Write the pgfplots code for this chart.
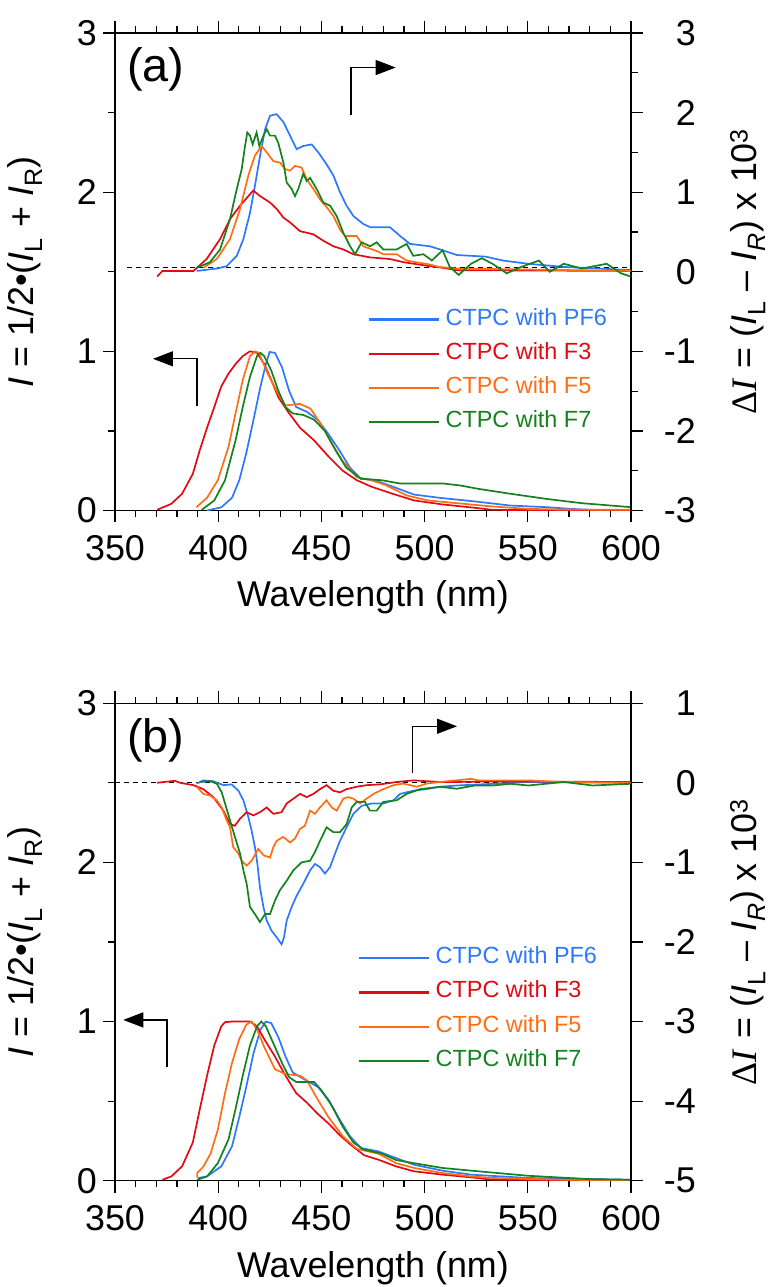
\documentclass[border=0pt]{standalone}
\usepackage{pgfplots}
\pgfplotsset{compat=1.18}
\usepackage{fontspec}
\setmainfont{Liberation Sans}
\newfontfamily\seriffont{Liberation Serif}
\usetikzlibrary{arrows.meta}

\definecolor{cblue}{RGB}{45,120,255}
\definecolor{cred}{RGB}{228,10,20}
\definecolor{corange}{RGB}{255,110,20}
\definecolor{cgreen}{RGB}{20,130,30}

\newcommand{\tickfont}{\fontsize{36}{36}\selectfont}
\newcommand{\labfont}{\fontsize{36}{36}\selectfont}
\newcommand{\legfont}{\fontsize{23.5}{23.5}\selectfont}

\tikzset{arr/.style={black, line width=1.3bp, -{Triangle[length=20bp,width=15bp]}}}

\pgfplotsset{
  base/.style={
    scale only axis, width=516bp, height=477.5bp,
    xmin=350, xmax=600,
    major tick length=12bp, minor tick length=6.5bp,
    every tick/.style={black, line width=1.2bp},
    axis line style={line width=1.3bp},
    tick label style={font=\tickfont, inner sep=0pt},
    every axis plot/.append style={line width=1.7bp},
  },
  leftax/.style={base,
    ymin=0, ymax=3, ytick={0,1,2,3}, yticklabels={0,1,2,3},
    minor y tick num=1, ytick pos=left,
    xtick={350,400,450,500,550,600}, xticklabels={350,400,450,500,550,600},
    minor x tick num=4, xtick pos=both, xticklabel pos=bottom,
    yticklabel style={anchor=east, xshift=-6bp},
    xticklabel style={anchor=north, yshift=-12.5bp},
    xlabel={Wavelength (nm)},
    every axis x label/.style={at={(axis description cs:0.5,0)}, anchor=base, yshift=-96.5bp, font=\labfont},
    ylabel={\textit{I} = 1/2•(\textit{I}\textsubscript{L} + \textit{I}\textsubscript{R})},
    every axis y label/.style={at={(axis description cs:-0.158,0.5)}, rotate=90, anchor=base, font=\labfont},
    legend cell align=left,
    legend style={draw=none, fill=none, anchor=north west, inner sep=0pt, outer sep=0pt,
      font=\legfont, row sep=17.2bp,
      nodes={inner sep=0pt, text height=17bp, text depth=0pt},
      /tikz/every odd column/.append style={column sep=6bp}},
    legend image code/.code={\draw[#1, line width=2.2bp] (0bp,-3bp) -- (69.6bp,-3bp);},
    tick align=outside,
  },
  rightax/.style={base,
    axis y line*=right, axis x line=none, ytick pos=right,
    yticklabel style={anchor=east, xshift=53bp},
    ylabel={{\seriffont Δ\textit{I}} = (\textit{I}\textsubscript{L} – \textit{I}\textsubscript{\textit{R}}) x 10\textsuperscript{3}},
    every axis y label/.style={at={(axis description cs:1.2436,0.5)}, rotate=90, anchor=base, font=\labfont},
    tick align=outside,
  },
}

\begin{document}
\begin{tikzpicture}[x=1bp,y=1bp]
\useasboundingbox (0bp,0bp) rectangle (779bp,1287bp);

%%%%%%%%%%%%%%%% panel (a), PL (left axis)
\begin{axis}[leftax, at={(115bp,776.5bp)}, anchor=south west,
  legend style={at={(axis description cs:0.490,0.424)}}]
\addplot[cblue] coordinates {(394.6,0.0)(401.5,0.02)(406.7,0.08)(410.2,0.19)(413.6,0.36)(417.1,0.57)(420.5,0.78)(423.1,0.92)(424.9,0.996)(427.5,0.99)(430.9,0.90)(434.4,0.75)(437.8,0.65)(443.0,0.62)(448.2,0.57)(453.4,0.48)(458.6,0.38)(463.8,0.27)(469.0,0.20)(475.9,0.19)(484.5,0.15)(494.9,0.10)(507.0,0.08)(524.3,0.057)(541.6,0.031)(558.9,0.021)(571.0,0.01)(588.2,0.0)(599.8,0.004)};
\addlegendentry{\textcolor{cblue}{CTPC with PF6}}
\addplot[cred] coordinates {(370.4,0.004)(377.3,0.042)(382.5,0.105)(387.7,0.23)(391.1,0.38)(394.6,0.52)(398.1,0.65)(401.5,0.78)(405.0,0.86)(408.4,0.92)(411.9,0.97)(415.4,1.0)(418.8,0.99)(422.3,0.92)(425.7,0.82)(429.2,0.71)(434.4,0.61)(439.6,0.52)(446.5,0.44)(453.4,0.34)(460.3,0.25)(467.2,0.19)(474.1,0.15)(484.5,0.105)(494.9,0.063)(508.7,0.038)(524.3,0.017)(532.9,0.004)(599.8,0.0)};
\addlegendentry{\textcolor{cred}{CTPC with F3}}
\addplot[corange] coordinates {(389.4,0.02)(394.6,0.08)(399.8,0.19)(405.0,0.40)(408.4,0.61)(411.9,0.82)(415.4,0.97)(417.9,1.0)(419.7,0.99)(424.0,0.86)(429.2,0.73)(432.6,0.66)(439.6,0.67)(444.7,0.64)(449.9,0.54)(455.1,0.42)(460.3,0.31)(467.2,0.21)(474.1,0.19)(481.1,0.16)(491.4,0.094)(501.8,0.063)(515.6,0.046)(532.9,0.025)(550.2,0.01)(567.5,0.006)(599.8,0.004)};
\addlegendentry{\textcolor{corange}{CTPC with F5}}
\addplot[cgreen] coordinates {(392.0,0.004)(398.1,0.063)(403.3,0.19)(408.4,0.44)(411.9,0.65)(415.4,0.84)(418.8,0.97)(420.5,0.99)(422.3,0.97)(425.7,0.88)(429.2,0.75)(432.6,0.65)(436.1,0.61)(441.3,0.60)(446.5,0.57)(451.7,0.50)(456.8,0.38)(462.0,0.27)(469.0,0.20)(479.3,0.19)(487.9,0.17)(508.7,0.17)(517.4,0.157)(526.0,0.136)(541.6,0.105)(558.9,0.073)(576.1,0.046)(599.8,0.021)};
\addlegendentry{\textcolor{cgreen}{CTPC with F7}}
\draw[arr] (axis cs:389.8,0.657) -- (axis cs:389.8,0.953) -- (axis cs:368.4,0.953);
\end{axis}

%%%%%%%%%%%%%%%% panel (a), CD (right axis)
\begin{axis}[rightax, at={(115bp,776.5bp)}, anchor=south west,
  ymin=-3, ymax=3, ytick={-3,-2,-1,0,1,2,3}, yticklabels={-3,-2,-1,0,1,2,3},
  minor y tick num=1]
\addplot[black, line width=1.3bp, dash pattern=on 5bp off 4bp] coordinates {(355.7,0.05)(600,0.05)};
\addplot[cblue] coordinates {(389.6,0.01)(399.3,0.04)(404.1,0.07)(409.0,0.20)(412.2,0.41)(415.4,0.74)(417.8,1.08)(420.3,1.46)(422.7,1.79)(425.1,1.96)(428.3,1.98)(431.6,1.88)(434.8,1.71)(438.0,1.54)(441.2,1.58)(445.3,1.60)(448.5,1.50)(452.5,1.35)(455.8,1.21)(459.0,1.00)(462.2,0.83)(465.5,0.70)(470.3,0.60)(473.6,0.56)(483.2,0.56)(488.1,0.45)(492.9,0.35)(502.6,0.32)(508.7,0.27)(515.6,0.21)(529.5,0.19)(538.1,0.14)(550.2,0.10)(567.5,0.06)(584.8,0.04)(599.8,0.02)};
\addplot[cred] coordinates {(370.4,-0.06)(373.0,0.01)(388.0,0.01)(394.4,0.16)(400.9,0.41)(405.7,0.66)(410.6,0.83)(414.6,0.95)(417.0,1.02)(420.3,0.95)(425.1,0.87)(428.3,0.79)(431.6,0.68)(434.8,0.62)(439.6,0.51)(446.1,0.47)(450.9,0.39)(455.8,0.32)(460.6,0.28)(465.5,0.22)(473.6,0.18)(483.2,0.16)(489.7,0.12)(502.6,0.07)(508.7,0.05)(515.6,0.02)(599.8,0.01)};
\addplot[corange] coordinates {(392.8,0.05)(399.3,0.16)(405.7,0.41)(410.6,0.79)(414.6,1.21)(417.8,1.46)(421.1,1.58)(423.5,1.50)(426.7,1.39)(430.0,1.37)(432.4,1.29)(434.8,1.27)(437.2,1.33)(440.4,1.31)(442.9,1.16)(446.1,1.04)(449.3,0.91)(452.6,0.81)(455.8,0.70)(459.0,0.53)(461.4,0.45)(467.1,0.45)(470.3,0.32)(476.8,0.26)(480.0,0.22)(486.5,0.22)(491.3,0.14)(502.6,0.09)(507.0,0.06)(515.6,0.04)(599.8,0.01)};
\addplot[cgreen] coordinates {(389.6,0.05)(396.0,0.12)(400.9,0.28)(405.7,0.66)(409.0,1.04)(411.4,1.29)(413.0,1.58)(414.1,1.75)(415.4,1.71)(416.7,1.60)(418.6,1.75)(419.9,1.58)(421.9,1.71)(423.5,1.79)(425.1,1.71)(427.5,1.71)(429.1,1.62)(431.6,1.37)(433.2,1.12)(435.6,1.04)(437.2,0.95)(438.8,1.04)(441.2,1.23)(442.9,1.14)(444.5,1.18)(447.7,1.04)(450.9,0.87)(454.2,0.83)(457.4,0.70)(460.6,0.49)(463.9,0.32)(466.3,0.22)(469.5,0.37)(473.6,0.32)(476.8,0.37)(480.0,0.28)(486.5,0.28)(491.3,0.35)(494.5,0.20)(499.4,0.22)(502.6,0.16)(503.5,0.14)(508.7,0.27)(512.2,0.06)(516.5,-0.04)(522.5,0.10)(527.7,0.17)(532.9,0.10)(539.8,-0.02)(546.7,0.06)(555.4,0.14)(560.6,0.00)(567.5,0.10)(576.1,0.04)(588.2,0.10)(595.2,-0.02)(599.8,-0.06)};
\draw[arr] (axis cs:464.3,1.975) -- (axis cs:464.3,2.566) -- (axis cs:486,2.566);
\end{axis}

%%%%%%%%%%%%%%%% panel (b), PL (left axis)
\begin{axis}[leftax, at={(115bp,106.3bp)}, anchor=south west,
  legend style={at={(axis description cs:0.4707,0.490)}}]
\addplot[cblue] coordinates {(390.3,0.017)(394.6,0.027)(401.5,0.09)(406.7,0.216)(410.2,0.40)(413.6,0.59)(417.1,0.80)(420.5,0.95)(423.1,1.0)(425.7,0.99)(429.2,0.90)(432.6,0.78)(436.1,0.68)(441.3,0.64)(448.2,0.59)(453.4,0.51)(458.6,0.39)(463.8,0.28)(469.0,0.206)(477.6,0.184)(486.2,0.142)(494.9,0.10)(508.7,0.063)(522.5,0.038)(550.2,0.017)(599.8,0.006)};
\addlegendentry{\textcolor{cblue}{CTPC with PF6}}
\addplot[cred] coordinates {(373.0,0.006)(377.3,0.027)(382.5,0.090)(387.7,0.24)(391.1,0.45)(394.6,0.66)(398.1,0.85)(401.5,0.97)(403.3,0.996)(406.7,1.0)(415.4,1.0)(418.8,0.97)(422.3,0.89)(427.5,0.78)(432.6,0.66)(437.8,0.55)(443.0,0.49)(448.2,0.42)(453.4,0.36)(458.6,0.29)(463.8,0.23)(470.7,0.16)(477.6,0.132)(486.2,0.09)(494.9,0.059)(508.7,0.038)(522.5,0.021)(532.9,0.006)(599.8,0.002)};
\addlegendentry{\textcolor{cred}{CTPC with F3}}
\addplot[corange] coordinates {(389.8,0.02)(389.8,0.048)(392.9,0.09)(396.3,0.17)(399.8,0.32)(403.3,0.55)(406.7,0.74)(410.2,0.89)(413.6,0.98)(416.2,1.0)(418.8,0.95)(422.3,0.84)(427.5,0.70)(432.6,0.67)(439.6,0.66)(443.0,0.63)(448.2,0.51)(453.4,0.40)(460.3,0.28)(467.2,0.20)(477.6,0.17)(486.2,0.11)(494.9,0.08)(508.7,0.048)(522.5,0.027)(532.9,0.017)(567.5,0.006)(599.8,0.002)};
\addlegendentry{\textcolor{corange}{CTPC with F5}}
\addplot[cgreen] coordinates {(389.8,0.006)(394.6,0.027)(399.8,0.11)(405.0,0.26)(408.4,0.45)(411.9,0.66)(415.4,0.85)(418.8,0.97)(420.9,1.0)(423.1,0.97)(427.5,0.84)(430.9,0.74)(434.4,0.65)(437.8,0.62)(446.5,0.62)(449.9,0.57)(455.1,0.47)(460.3,0.34)(465.5,0.24)(470.7,0.195)(479.3,0.17)(486.2,0.13)(494.9,0.11)(508.7,0.08)(526.0,0.059)(550.2,0.031)(579.6,0.01)(599.8,0.006)};
\addlegendentry{\textcolor{cgreen}{CTPC with F7}}
\draw[arr] (axis cs:375.2,0.717) -- (axis cs:375.2,1.01) -- (axis cs:354.0,1.01);
\end{axis}

%%%%%%%%%%%%%%%% panel (b), CD (right axis)
\begin{axis}[rightax, at={(115bp,106.3bp)}, anchor=south west,
  ymin=-5, ymax=1, ytick={-5,-4,-3,-2,-1,0,1}, yticklabels={-5,-4,-3,-2,-1,0,1}]
\addplot[black, line width=1.3bp, dash pattern=on 5bp off 4bp] coordinates {(350,0)(600,0)};
\addplot[cblue] coordinates {(389.6,-0.01)(392.8,0.03)(397.6,0.02)(402.5,-0.03)(406.5,-0.02)(409.8,-0.10)(412.2,-0.22)(414.6,-0.43)(416.2,-0.60)(417.8,-0.81)(419.0,-1.02)(420.2,-1.31)(421.9,-1.56)(423.5,-1.73)(425.9,-1.86)(428.3,-1.94)(430.7,-2.03)(431.9,-1.94)(433.2,-1.73)(435.6,-1.56)(438.0,-1.42)(441.2,-1.27)(444.5,-1.10)(446.9,-1.02)(449.3,-1.06)(451.7,-1.14)(454.2,-1.06)(456.6,-0.89)(459.0,-0.73)(462.2,-0.56)(465.5,-0.39)(469.5,-0.29)(474.4,-0.26)(480.0,-0.26)(484.9,-0.22)(488.1,-0.14)(494.5,-0.10)(501.0,-0.08)(507.5,-0.05)(515.6,-0.034)(532.9,-0.013)(550.2,0.01)(599.8,0)};
\addplot[cred] coordinates {(370.4,0)(379.0,0.025)(381.5,0)(388.0,-0.03)(392.8,-0.08)(397.6,-0.18)(402.5,-0.35)(405.7,-0.52)(408.1,-0.54)(410.6,-0.45)(413.8,-0.37)(417.0,-0.41)(420.2,-0.37)(423.5,-0.31)(426.7,-0.39)(430.7,-0.37)(433.2,-0.26)(436.4,-0.20)(439.6,-0.14)(442.9,-0.18)(446.1,-0.14)(449.3,-0.08)(452.5,-0.03)(455.8,-0.10)(459.0,-0.12)(462.2,-0.08)(467.1,-0.05)(471.9,-0.03)(478.4,-0.02)(486.5,0.01)(494.5,0.03)(507.5,0.01)(515.6,0.01)(532.9,0.017)(599.8,0.01)};
\addplot[corange] coordinates {(389.6,-0.05)(392.8,-0.14)(396.0,-0.16)(399.3,-0.22)(401.7,-0.31)(404.1,-0.47)(405.7,-0.56)(407.3,-0.81)(409.8,-0.89)(411.4,-0.98)(413.8,-1.04)(416.2,-0.98)(419.4,-0.83)(421.9,-0.91)(425.1,-0.94)(426.7,-0.81)(428.3,-0.73)(431.5,-0.68)(434.8,-0.75)(437.2,-0.70)(439.6,-0.58)(442.0,-0.54)(444.5,-0.35)(446.9,-0.39)(449.3,-0.31)(452.5,-0.22)(455.0,-0.31)(457.4,-0.35)(460.6,-0.20)(463.0,-0.18)(465.5,-0.20)(468.7,-0.26)(471.9,-0.20)(475.2,-0.14)(480.0,-0.08)(484.9,-0.03)(489.7,-0.01)(496.2,-0.05)(501.0,-0.01)(507.5,0.01)(522.5,0.05)(526.0,0.03)(550.2,0.03)(567.5,0.01)(599.8,0)};
\addplot[cgreen] coordinates {(391.2,0.01)(396.0,0.02)(399.3,-0.01)(401.7,-0.12)(403.3,-0.26)(405.7,-0.47)(408.1,-0.68)(410.6,-0.89)(412.2,-1.10)(413.8,-1.27)(415.4,-1.56)(417.8,-1.65)(420.2,-1.75)(422.7,-1.65)(425.1,-1.65)(427.5,-1.48)(429.9,-1.35)(433.2,-1.23)(436.4,-1.10)(440.4,-1.00)(444.5,-0.98)(446.9,-0.87)(449.3,-0.73)(452.5,-0.56)(455.8,-0.62)(459.0,-0.62)(462.2,-0.52)(464.7,-0.31)(467.1,-0.24)(471.1,-0.24)(473.5,-0.35)(476.8,-0.35)(480.0,-0.24)(486.5,-0.22)(491.3,-0.14)(497.8,-0.08)(507.5,-0.05)(515.6,-0.075)(524.3,-0.034)(532.9,-0.034)(541.6,-0.013)(550.2,-0.034)(567.5,0.01)(581.3,-0.034)(599.8,-0.013)};
\draw[arr] (axis cs:494.3,0.12) -- (axis cs:494.3,0.71) -- (axis cs:515.7,0.71);
\end{axis}

\node[font=\fontsize{47}{47}\selectfont, anchor=base west, inner sep=0pt] at (127bp,1205bp) {(a)};
\node[font=\fontsize{47}{47}\selectfont, anchor=base west, inner sep=0pt] at (127bp,534bp) {(b)};
\end{tikzpicture}
\end{document}
